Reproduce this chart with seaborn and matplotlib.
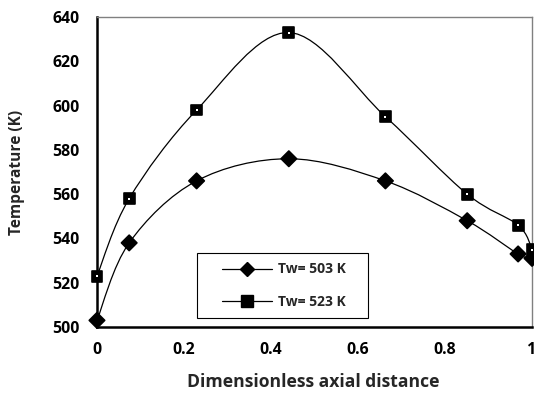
import numpy as np
import pandas as pd
import matplotlib
matplotlib.use("Agg")
import matplotlib.pyplot as plt
from matplotlib.path import Path
from matplotlib.patches import PathPatch, Rectangle
from matplotlib.lines import Line2D
import seaborn as sns

# Axial positions (dimensionless) and wall-temperature series
x_pos = [0.0, 0.074, 0.229, 0.441, 0.663, 0.851, 0.968, 1.0]
t_503 = [503, 538, 566, 576, 566, 548, 533, 531]
t_523 = [523, 558, 598, 633, 595, 560, 546, 535]
series_names = ["Tw= 503 K", "Tw= 523 K"]
x_ticks = [0, 0.2, 0.4, 0.6, 0.8, 1]
x_tick_labels = ["0", "0.2", "0.4", "0.6", "0.8", "1"]
y_ticks = [500, 520, 540, 560, 580, 600, 620, 640]

sns.set_theme(style="white")
FONT = ["Open Sans", "DejaVu Sans"]
plt.rcParams["font.family"] = FONT
plt.rcParams["font.weight"] = "bold"

df = pd.DataFrame({
    "x": x_pos * 2,
    "T": t_503 + t_523,
    "series": [series_names[0]] * len(x_pos) + [series_names[1]] * len(x_pos),
})

fig = plt.figure(figsize=(5.34, 3.96), dpi=100)
ax = fig.add_axes([0.1816, 0.1742, 0.8147, 0.7828])


def smooth_path(xs, ys):
    """Cardinal-spline Bezier path through the points (spreadsheet-style smoothing)."""
    pts = np.column_stack([xs, ys]).astype(float)
    n = len(pts)
    verts = [pts[0]]
    codes = [Path.MOVETO]
    for i in range(n - 1):
        p0 = pts[max(i - 1, 0)]
        p1 = pts[i]
        p2 = pts[i + 1]
        p3 = pts[min(i + 2, n - 1)]
        c1 = p1 + (p2 - p0) / 6.0
        c2 = p2 - (p3 - p1) / 6.0
        verts += [c1, c2, p2]
        codes += [Path.CURVE4] * 3
    return Path(verts, codes)


for ys in (t_503, t_523):
    ax.add_patch(PathPatch(smooth_path(x_pos, ys), facecolor="none",
                           edgecolor="black", lw=0.9, zorder=2))

sns.scatterplot(data=df, x="x", y="T", style="series",
                markers={series_names[0]: "D", series_names[1]: "s"},
                color="black", s=62, linewidth=1.2, edgecolor="black",
                legend=False, ax=ax, zorder=3, clip_on=False)
# white centre dot inside the square markers
ax.scatter(x_pos, t_523, marker="s", s=2, color="white", zorder=4,
           linewidths=0, clip_on=False)

ax.set_xlim(0, 1)
ax.set_ylim(500, 640)
ax.set_xticks(x_ticks)
ax.set_xticklabels(x_tick_labels)
ax.set_yticks(y_ticks)
ax.tick_params(axis="both", direction="out", length=5, width=1.5,
               color="black", labelsize=11.4, labelcolor="black")
ax.tick_params(axis="x", pad=6)
ax.tick_params(axis="y", pad=7.5)
for lab in ax.get_xticklabels() + ax.get_yticklabels():
    lab.set_fontweight("bold")
    lab.set_family(FONT)

for side in ("left", "bottom"):
    ax.spines[side].set_color("black")
    ax.spines[side].set_linewidth(1.8)
for side in ("top", "right"):
    ax.spines[side].set_color("#808080")
    ax.spines[side].set_linewidth(1.0)

ax.set_xlabel("Dimensionless axial distance", fontsize=12.6,
              fontweight="bold", family=FONT)
ax.set_ylabel("Temperature (K)", fontsize=11.2, fontweight="bold",
              family=FONT)
ax.xaxis.set_label_coords(0.497, -0.148)
ax.yaxis.set_label_coords(-0.166, 0.5)

# legend frame and entries
ax.add_patch(Rectangle((0.230, 0.029), 0.393, 0.210, transform=ax.transAxes,
                       facecolor="white", edgecolor="black", lw=0.8,
                       zorder=5))
handles = [
    Line2D([0], [0], color="black", lw=0.9, marker="D", markersize=7.5,
           markerfacecolor="black", markeredgecolor="black"),
    Line2D([0], [0], color="black", lw=0.9, marker="s", markersize=8,
           markerfacecolor="black", markeredgecolor="black"),
]
leg = ax.legend(handles, series_names, loc="center",
                bbox_to_anchor=(0.429, 0.134), frameon=False,
                handlelength=3.6, handletextpad=0.45, borderpad=0,
                labelspacing=1.3, borderaxespad=0,
                prop={"weight": "bold", "size": 10, "family": FONT})
leg.set_zorder(6)

fig.savefig("out.png", dpi=100)
